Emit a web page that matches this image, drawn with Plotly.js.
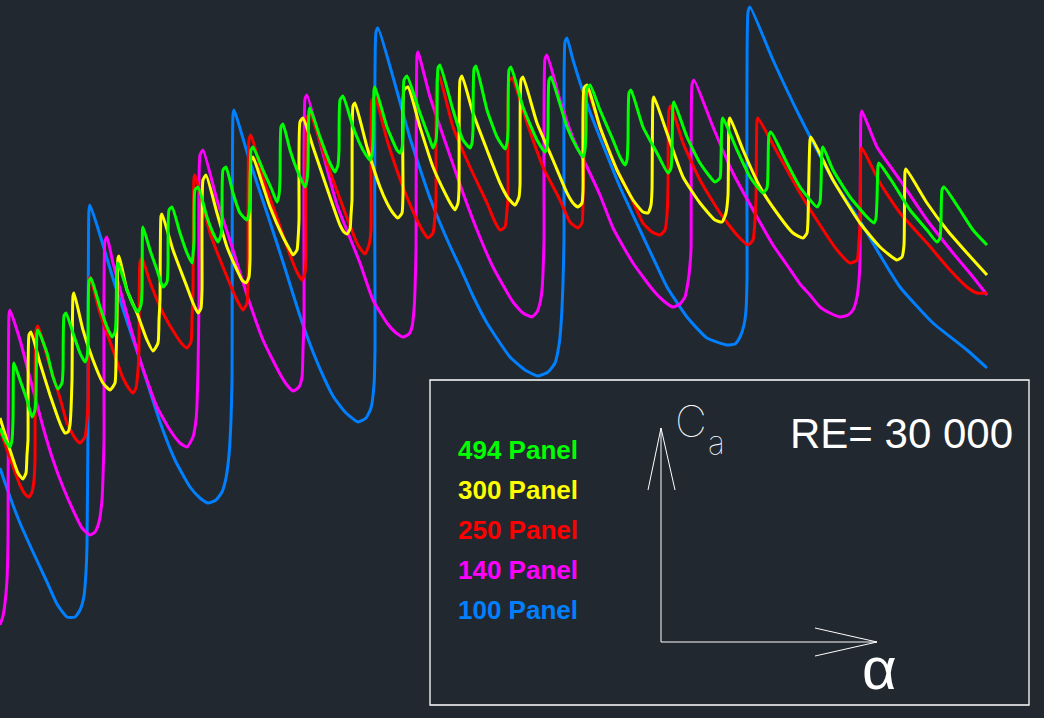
<!DOCTYPE html>
<html>
<head>
<meta charset="utf-8">
<script src="https://cdn.plot.ly/plotly-3.0.1.min.js"></script>
<style>
  html, body { margin: 0; padding: 0; background: #212830; }
  #chart { width: 1044px; height: 718px; }
</style>
</head>
<body>
<div id="chart"></div>
<script>
// Series names (legend labels)
const seriesNames = ["494 Panel", "300 Panel", "250 Panel", "140 Panel", "100 Panel"];

// Traced points [alpha, Ca] (picture units, Ca grows upward)
const panel100 = [
  [0,468],[10,497],[20,523],[33,552],[47,582],[57,604],[67,617],[75,617],[80,610],[84,596],[86,572],[87,545],[88,420],[89,210],[90,205],
  [100,235],[115,285],[140,360],[160,422],[175,460],[190,487],[200,498],[208,503],[216,500],[222,492],[226,478],[229,455],[231,420],[232,380],[233,115],[234,110],
  [250,162],[267,213],[283,262],[300,316],[313,352],[325,380],[333,396],[345,412],[358,422],[366,418],[371,408],[374,385],[375,350],[376,32],[378,28],
  [393,77],[410,138],[430,198],[450,246],[460,267],[473,296],[487,323],[510,357],[525,370],[538,376],[548,372],[555,363],[559,345],[561,325],[563,283],[564,240],[565,42],[567,38],
  [573,60],[590,112],[607,155],[620,187],[640,230],[655,262],[667,287],[687,317],[707,338],[727,345],[735,344],[740,337],[744,325],[746,310],[747,280],[748,12],[750,7],
  [773,60],[800,117],[833,180],[860,221],[880,255],[900,287],[933,323],[967,350],[987,368]
];
const panel140 = [
  [0,625],[3,616],[5,603],[7,580],[8,540],[9,315],[10,310],
  [20,340],[30,378],[43,427],[53,460],[63,487],[73,510],[82,528],[90,535],[95,532],[99,522],[102,500],[103,477],[104,440],[105,241],[107,237],
  [113,263],[123,300],[140,360],[157,407],[170,430],[180,443],[187,447],[193,437],[196,420],[197,405],[198,370],[199,300],[200,155],[203,150],
  [217,200],[233,250],[247,295],[263,340],[280,374],[287,385],[293,391],[299,387],[302,377],[303,350],[304,320],[305,99],[307,95],
  [322,150],[337,205],[350,238],[360,263],[373,300],[387,323],[395,332],[403,337],[409,334],[412,327],[414,310],[415,290],[416,250],[417,56],[418,52],
  [430,97],[447,147],[463,193],[477,230],[493,267],[513,302],[523,313],[532,317],[537,312],[540,303],[542,290],[543,273],[544,240],[545,59],[547,55],
  [560,100],[573,138],[587,167],[600,195],[613,228],[633,263],[653,290],[665,302],[673,307],[680,304],[685,297],[688,282],[689,275],[691,250],[692,85],[694,80],
  [713,127],[733,173],[757,217],[773,245],[787,265],[800,284],[810,295],[820,307],[830,313],[840,317],[848,315],[853,310],[857,297],[859,280],[860,260],[861,115],[862,111],
  [877,147],[900,180],[927,220],[953,253],[973,277],[987,295]
];
const panel250 = [
  [0,430],[10,458],[20,485],[25,494],[29,497],[32,492],[34,480],[35,460],[36,330],[38,326],
  [50,367],[60,398],[67,423],[75,438],[80,443],[85,437],[87,420],[88,400],[89,281],[90,277],
  [100,313],[113,350],[123,378],[130,390],[133,393],[136,388],[138,370],[139,350],[140,262],[142,258],
  [150,282],[163,313],[177,337],[183,345],[187,348],[191,342],[192,320],[193,290],[194,178],[195,175],
  [210,233],[223,267],[237,300],[243,310],[247,303],[248,285],[249,140],[251,135],
  [263,178],[277,218],[290,255],[297,272],[302,280],[305,273],[306,258],[307,118],[310,114],
  [327,163],[343,207],[357,243],[362,251],[365,254],[369,245],[371,230],[372,100],[375,97],
  [387,140],[403,187],[417,220],[424,233],[428,238],[433,233],[435,215],[436,197],[437,78],[439,75],
  [453,127],[470,167],[487,203],[495,222],[500,230],[505,227],[507,210],[508,195],[509,81],[512,78],
  [527,123],[543,167],[560,200],[570,222],[578,228],[582,223],[583,200],[584,160],[585,91],[587,88],
  [600,128],[617,170],[630,195],[643,223],[652,232],[660,235],[665,230],[667,215],[668,187],[669,110],[671,106],
  [683,143],[700,180],[720,213],[737,235],[748,245],[753,240],[755,220],[756,200],[757,121],[758,118],
  [777,152],[800,193],[820,225],[837,250],[850,263],[857,260],[859,240],[860,225],[861,151],[862,148],
  [880,183],[900,213],[927,243],[950,270],[967,287],[977,293],[987,293]
];
const panel300 = [
  [0,418],[10,450],[18,473],[23,479],[26,473],[27,455],[28,440],[29,335],[31,332],
  [40,363],[50,395],[58,418],[62,428],[65,433],[68,432],[70,425],[71,410],[72,380],[73,296],[74,293],
  [83,330],[93,360],[103,383],[110,390],[115,383],[116,360],[117,320],[118,258],[119,256],
  [127,290],[137,313],[147,340],[153,351],[158,343],[159,320],[160,300],[161,216],[162,214],
  [173,250],[187,287],[193,303],[198,313],[201,308],[202,290],[203,180],[206,175],
  [217,213],[227,247],[237,270],[242,280],[246,283],[249,277],[250,260],[251,160],[253,157],
  [262,183],[270,207],[283,237],[290,250],[293,255],[297,250],[298,240],[299,220],[300,122],[303,118],
  [313,147],[330,197],[340,225],[344,232],[347,234],[350,229],[351,215],[352,200],[353,106],[355,103],
  [367,147],[380,187],[387,203],[393,213],[398,218],[402,213],[403,193],[404,90],[408,87],
  [420,127],[433,167],[447,197],[452,206],[455,210],[458,203],[459,190],[460,80],[462,76],
  [473,113],[487,150],[500,183],[508,198],[515,205],[519,197],[520,185],[521,80],[523,77],
  [537,123],[553,160],[567,193],[573,203],[578,207],[582,203],[583,190],[584,88],[587,85],
  [600,127],[617,170],[633,200],[643,212],[648,213],[651,205],[652,190],[653,100],[654,97],
  [667,133],[683,177],[700,203],[715,220],[722,222],[726,213],[728,195],[729,121],[730,118],
  [743,150],[760,187],[777,213],[793,233],[803,238],[807,233],[808,220],[810,140],[811,137],
  [833,180],[860,223],[880,247],[897,260],[902,257],[904,245],[905,172],[906,169],
  [927,203],[947,230],[967,253],[987,275]
];
const panel494 = [
  [0,428],[5,440],[10,447],[12,440],[13,420],[13.5,366],[14,363],
  [20,380],[27,400],[32,417],[35,410],[36,395],[37,333],[38,330],
  [47,353],[53,377],[58,389],[62,383],[63,370],[64,316],[66,313],
  [73,333],[80,353],[85,362],[87,357],[88,345],[89,281],[91,278],
  [100,307],[107,327],[112,337],[115,332],[116,320],[117,266],[118,263],
  [127,290],[133,305],[138,312],[141,305],[142,290],[142.5,230],[143,227],
  [150,250],[157,270],[163,287],[167,282],[168,265],[169,210],[172,207],
  [180,233],[187,253],[192,263],[193,255],[194,240],[195,190],[198,187],
  [207,217],[213,233],[218,242],[221,235],[222,220],[223,170],[226,167],
  [233,193],[240,213],[247,220],[249,213],[250,200],[251,150],[253,147],
  [263,170],[272,190],[277,202],[279,195],[280,180],[281,127],[283,124],
  [290,150],[297,170],[305,187],[307,180],[308,165],[309,111],[310,108],
  [320,137],[330,163],[335,172],[338,165],[339,150],[340,100],[343,96],
  [353,127],[363,150],[370,160],[372,155],[373,140],[374,90],[375,87],
  [387,127],[397,150],[400,153],[402,148],[403,135],[404,80],[407,76],
  [420,113],[430,140],[433,148],[436,140],[437,125],[438,68],[440,65],
  [453,110],[463,140],[470,148],[472,143],[473,130],[474,69],[476,66],
  [487,110],[497,137],[505,149],[507,143],[508,130],[509,70],[511,67],
  [523,107],[537,140],[545,152],[547,147],[548,130],[549,80],[551,77],
  [567,127],[577,148],[583,157],[585,150],[586,130],[587,88],[590,85],
  [600,110],[613,140],[620,157],[625,165],[627,160],[628,140],[629,93],[631,90],
  [643,127],[657,153],[668,173],[671,168],[672,150],[673,105],[674,102],
  [687,137],[700,163],[715,182],[720,178],[721,160],[722,121],[723,118],
  [737,150],[750,177],[763,193],[767,188],[768,170],[769,135],[771,132],
  [787,163],[800,187],[817,207],[820,202],[821,185],[822,150],[823,147],
  [833,170],[850,197],[867,217],[874,223],[876,218],[877,200],[878,166],[879,163],
  [893,183],[910,210],[927,230],[937,242],[940,238],[941,220],[942,190],[944,187],
  [960,210],[973,230],[987,245]
];

const seriesData = [panel494, panel300, panel250, panel140, panel100];
const seriesColors = ["#00ff00", "#ffff00", "#ff0000", "#ff00ff", "#0080ff"];
const infoText = "RE= 30 000";
const yAxisLabel = "C";
const yAxisSub = "a";
const xAxisLabel = "α";

const BG = "#212830";
const W = 1044, H = 718;

// draw order: blue first, green last
const order = [4, 3, 2, 1, 0];
const traces = order.map(i => ({
  type: "scatter",
  mode: "lines",
  name: seriesNames[i],
  x: seriesData[i].map(p => p[0]),
  y: seriesData[i].map(p => p[1]),
  line: { color: seriesColors[i], width: 3, shape: "spline", smoothing: 0.5 },
  hoverinfo: "skip"
}));

const legendY = [450, 490, 530, 570, 610];
const annotations = seriesNames.map((n, i) => ({
  xref: "x", yref: "y", x: 456, y: legendY[i],
  xanchor: "left", yanchor: "middle",
  text: n, showarrow: false,
  font: { family: "Liberation Sans, Arial, sans-serif", size: 26, weight: "bold", color: seriesColors[i] }
}));
annotations.push({
  xref: "x", yref: "y", x: 788, y: 433, xanchor: "left", yanchor: "middle",
  text: infoText, showarrow: false,
  font: { family: "Liberation Sans, Arial, sans-serif", size: 42, color: "#ffffff" }
});
annotations.push({
  xref: "x", yref: "y", x: 673, y: 421, xanchor: "left", yanchor: "middle",
  text: yAxisLabel, showarrow: false,
  font: { family: "Inter, DejaVu Sans, sans-serif", size: 44, weight: 100, color: "#ffffff" }
});
annotations.push({
  xref: "x", yref: "y", x: 706, y: 442, xanchor: "left", yanchor: "middle",
  text: yAxisSub, showarrow: false,
  font: { family: "Inter, DejaVu Sans, sans-serif", size: 32, weight: 100, color: "#ffffff" }
});
annotations.push({
  xref: "x", yref: "y", x: 879, y: 668, xanchor: "center", yanchor: "middle",
  text: xAxisLabel, showarrow: false,
  font: { family: "Liberation Sans, Arial, sans-serif", size: 60, color: "#ffffff" }
});

const wl = { color: "#ffffff", width: 1 };
const shapes = [
  { type: "rect", xref: "x", yref: "y", x0: 430, y0: 380, x1: 1029, y1: 705, line: { color: "#ffffff", width: 1.3 } },
  { type: "line", xref: "x", yref: "y", x0: 661, y0: 642, x1: 661, y1: 428, line: wl },
  { type: "line", xref: "x", yref: "y", x0: 661, y0: 428, x1: 648, y1: 490, line: wl },
  { type: "line", xref: "x", yref: "y", x0: 661, y0: 428, x1: 675, y1: 490, line: wl },
  { type: "line", xref: "x", yref: "y", x0: 661, y0: 642, x1: 877, y1: 642, line: wl },
  { type: "line", xref: "x", yref: "y", x0: 877, y0: 642, x1: 815, y1: 628, line: wl },
  { type: "line", xref: "x", yref: "y", x0: 877, y0: 642, x1: 815, y1: 656, line: wl }
];

const layout = {
  width: W, height: H,
  margin: { l: 0, r: 0, t: 0, b: 0, pad: 0 },
  paper_bgcolor: BG, plot_bgcolor: BG,
  showlegend: false,
  xaxis: { range: [0, W], visible: false, fixedrange: true },
  yaxis: { range: [H, 0], visible: false, fixedrange: true },
  annotations: annotations,
  shapes: shapes
};

Plotly.newPlot("chart", traces, layout, { displayModeBar: false, staticPlot: true });
</script>
</body>
</html>
